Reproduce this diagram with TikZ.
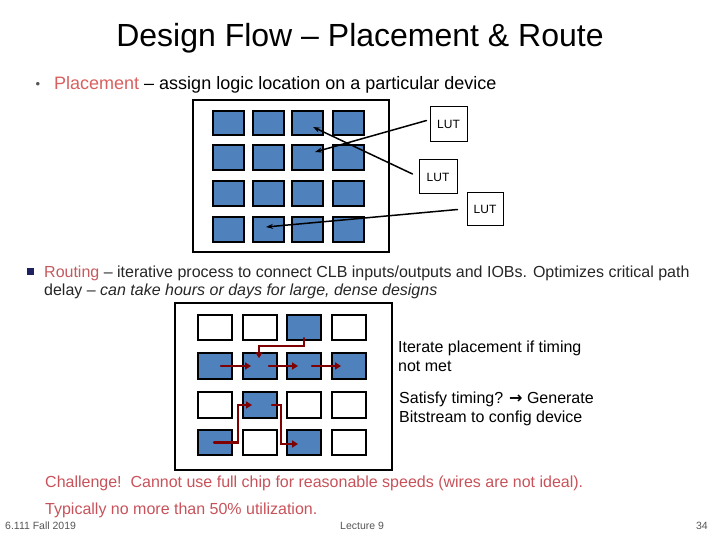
\documentclass[tikz,border=0pt]{standalone}
\usepackage{fontspec}
\setmainfont{Liberation Sans}
\newfontfamily\symfont{DejaVu Sans}
\usetikzlibrary{arrows.meta, positioning, calc}
\definecolor{cellblue}{HTML}{4F81BD}
\definecolor{placered}{HTML}{D8605F}
\definecolor{routered}{HTML}{C45A5E}
\definecolor{slidered}{HTML}{C8525A}
\definecolor{wirered}{HTML}{7F0000}
\definecolor{bulletnavy}{HTML}{1F2060}
\definecolor{bodytext}{HTML}{262626}
\definecolor{footgray}{HTML}{555555}

\begin{document}
\begin{tikzpicture}[x=1pt, y=-1pt, line cap=round,
    cellb/.style={draw=black, line width=2pt, fill=cellblue, inner sep=0pt},
    cellw/.style={cellb, fill=white},
    chip/.style={draw=black, line width=2.5pt, inner sep=0pt},
    lutbox/.style={draw=black, line width=1pt, inner sep=0pt, font=\fontsize{12}{14}\selectfont},
    txt/.style={anchor=base west, inner sep=0pt, align=left},
    ptr/.style={-{Stealth[length=7pt, width=5pt]}, line width=1.5pt},
    wire/.style={-{Triangle[length=6pt, width=7pt]}, draw=wirered, line width=2.2pt}]
      \useasboundingbox (0,0) rectangle (720,540);

      % Titel
      \node[anchor=base, inner sep=0pt, font=\fontsize{32}{36}\selectfont] (title) at (360,47) {Design Flow – Placement \& Route};

      % Placement
      \node[anchor=base, inner sep=0pt, text=footgray, font=\fontsize{13}{14}\selectfont] (dotA) at (38,89) {•};
      \node[txt, font=\fontsize{18}{20}\selectfont] (place) at (54,90)
            {\textcolor{placered}{Placement} – assign logic location on a particular device};

      % Chip mit platzierter Logik
      \node[chip, minimum width=196pt, minimum height=152pt] (chipA) at (291,176) {};
      \foreach \c/\x in {1/228.5, 2/268.5, 3/307.5, 4/348}
        \foreach \r/\y in {1/123, 2/157.5, 3/193.5, 4/229.5}
          \node[cellb, minimum width=31pt, minimum height=24.5pt] (p\r\c) at (\x,\y) {};

      \node[lutbox, minimum width=37pt, minimum height=35pt] (lutA) at (448.5,124.5) {LUT};
      \node[lutbox, minimum width=38pt, minimum height=34pt] (lutB) at (438,177) {LUT};
      \node[lutbox, minimum width=36pt, minimum height=33pt] (lutC) at (485,209.5) {LUT};

      \draw[ptr] ($(lutA.west)+(-3,-4)$) -- ($(p23.center)+(7.5,-5.5)$);
      \draw[ptr] ($(lutB.west)+(-6,-3)$) -- ($(p13.center)+(5.5,4)$);
      \draw[ptr] ($(lutC.west)+(-9,0)$) -- ($(p42.center)+(-2.5,-2.5)$);

      % Routing
      \node[fill=bulletnavy, minimum size=7pt, inner sep=0pt] (sqB) at (30,271) {};
      \node[txt, text=bodytext, font=\fontsize{16}{18}\selectfont] (route) at (44,295)
            {\textcolor{routered}{Routing} – iterative process to connect CLB inputs/outputs and IOBs. Optimizes critical path\\
             delay – \textit{can take hours or days for large, dense designs}};

      % Chip mit Verdrahtung
      \node[chip, minimum width=217pt, minimum height=167pt] (chipB) at (283.5,386.5) {};
      \foreach \r/\c/\s in {1/1/w, 1/2/w, 1/3/b, 1/4/w, 2/1/b, 2/2/b, 2/3/b, 2/4/b,
                            3/1/w, 3/2/b, 3/3/w, 3/4/w, 4/1/b, 4/2/w, 4/3/b, 4/4/w} {
        \pgfmathsetmacro{\x}{{215,260,303.5,349}[\c-1]}
        \pgfmathsetmacro{\y}{{327.5,366,405,442.5}[\r-1]}
        \node[cell\s, minimum width=34pt, minimum height=25.5pt] (r\r\c) at (\x,\y) {};
      }

      \draw[wire] ($(r13.south)+(0.5,-3)$) -- ++(0,8) -| ($(r22.north)+(-1,6)$);
      \draw[wire] ($(r21.center)+(6,0)$) -- ($(r22.center)+(-9,0)$);
      \draw[wire] ($(r22.center)+(9,0)$) -- ($(r23.center)+(-5.5,0)$);
      \draw[wire] ($(r23.center)+(8.5,0)$) -- ($(r24.center)+(-8,0)$);
      \draw[wire] ($(r41.center)+(-1,0)$) -- ++(24,0) |- ($(r32.center)+(-8,0)$);
      \draw[wire] ($(r32.center)+(12,0)$) -- ++(9,0) |- ($(r43.center)+(-5.5,1.5)$);

      \node[txt, font=\fontsize{16}{19}\selectfont] (iter) at (398,371)
            {Iterate placement if timing\\not met};
      \node[txt, font=\fontsize{16}{19}\selectfont] (sat) at (399,422)
            {Satisfy timing? {\symfont\bfseries →} Generate\\Bitstream to config device};

      % Hinweis
      \node[txt, text=slidered, font=\fontsize{16}{18}\selectfont] (chal) at (45,487)
            {Challenge!\ \ Cannot use full chip for reasonable speeds (wires are not ideal).};
      \node[txt, text=slidered, font=\fontsize{16}{18}\selectfont] (util) at (45,514)
            {Typically no more than 50\% utilization.};

      % Fusszeile
      \node[txt, text=footgray, font=\fontsize{10.5}{12}\selectfont] (footL) at (5,529) {6.111 Fall 2019};
      \node[txt, text=footgray, font=\fontsize{10.5}{12}\selectfont] (footM) at (340,529) {Lecture 9};
      \node[anchor=base east, inner sep=0pt, text=footgray, font=\fontsize{10.5}{12}\selectfont] (footR) at (708,529) {34};
    \end{tikzpicture}
\end{document}
